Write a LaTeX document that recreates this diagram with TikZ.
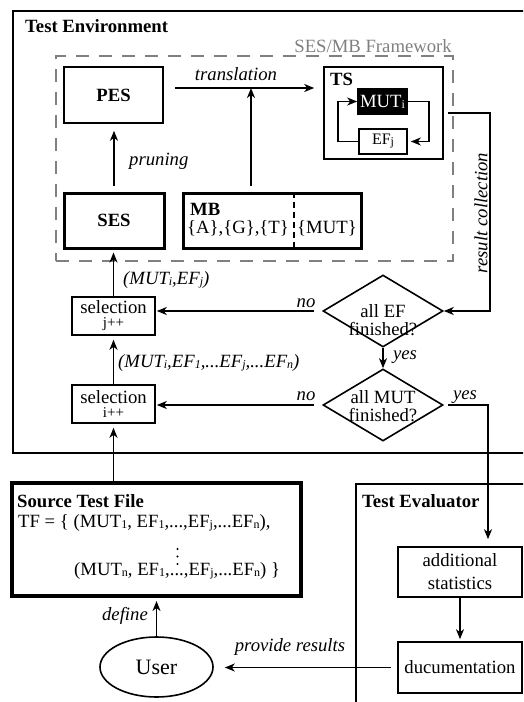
\documentclass[tikz,border=0pt]{standalone}
\usepackage{fontspec}
\setmainfont{Liberation Serif}
\usetikzlibrary{arrows.meta,shapes.geometric}
\definecolor{fwgray}{RGB}{128,128,128}
% small lowered index letters (MUT_i, EF_j, ...)
\newcommand\lo[1]{\raisebox{-1pt}{\fontsize{12}{12}\selectfont #1}}
\begin{document}
\fontsize{18.7}{21}\selectfont
\begin{tikzpicture}[x=1pt,y=-1pt,
  box/.style={draw, line width=1.6pt, inner sep=0pt, align=center},
  heavy/.style={box, line width=3pt},
  frame/.style={draw, line width=1.5pt, inner sep=0pt, anchor=north west},
  decision/.style={draw, diamond, line width=1.6pt, inner sep=0pt,
    minimum width=120pt, minimum height=72pt},
  dtext/.style={align=center, inner sep=0pt, font=\fontsize{18.7}{18.5}\selectfont},
  arr/.style={-{Stealth[length=10pt,width=8pt,inset=3pt]}, line width=1.6pt},
  lbl/.style={font=\itshape, inner sep=0pt},
  ttl/.style={font=\bfseries, inner sep=0pt},
]
\useasboundingbox (0,0) rectangle (523,702);
\clip (0,0) rectangle (523,702);

% ---- frames ----
\node[frame, minimum width=520pt, minimum height=442pt] (env) at (12,10) {};
\node[ttl, anchor=base west] (envt) at (25,32) {Test Environment};
\node[frame, draw=fwgray, dash pattern=on 13pt off 10pt,
      minimum width=397pt, minimum height=205pt] (fw) at (55,55) {};
\node[inner sep=0pt, text=fwgray, anchor=base east] (fwt) at (452,52) {SES/MB Framework};
\node[frame, minimum width=180pt, minimum height=230pt] (eval) at (355,483) {};
\node[ttl, anchor=base west] (evalt) at (362,507) {Test Evaluator};

% ---- SES/MB framework content ----
\node[box, minimum width=99pt, minimum height=56pt, font=\bfseries] (pes) at (113.5,95) {PES};
\node[heavy, minimum width=100pt, minimum height=55pt, font=\bfseries] (ses) at (114,220.5) {SES};
\node[heavy, minimum width=178pt, minimum height=55pt] (mb) at (272,220.5) {};
\draw[line width=1.5pt, dash pattern=on 6pt off 4pt] ([xshift=22pt]mb.north) -- ([xshift=22pt]mb.south);
\node[ttl, anchor=base west] (mbt) at (190,215) {MB};
\node[inner sep=0pt, anchor=base west] (mbl) at (187,233) {\{A\},\{G\},\{T\}};
\node[inner sep=0pt, anchor=base] (mbr) at (327,233) {\{MUT\}};

\node[box, minimum width=119pt, minimum height=92pt] (ts) at (383.5,113) {};
\node[ttl, anchor=base west] (tst) at (330,85) {TS};
\node[box, fill=black, text=white, minimum width=49pt, minimum height=25pt] (mut) at (382.5,101.5) {MUT\lo{i}};
\node[box, minimum width=48pt, minimum height=25pt, font=\fontsize{16}{16}\selectfont] (efj) at (383,141.5) {EF\lo{j}};
\draw[arr, shorten >=3pt] (mut.east) -- ++(21,0) |- (efj.east);
\draw[arr] (efj.west) -- ++(-20,0) |- (mut.west);

\coordinate (ytr) at (0,88);
\draw[arr, shorten <=11pt, shorten >=9pt] (pes.east |- ytr) -- (ts.west |- ytr);
\node[lbl, anchor=base] (trl) at (236,80) {translation};
\draw[arr, shorten <=6pt] ([xshift=-21pt]mb.north) -- ([xshift=-21pt]mb.north |- ytr);
\draw[arr, shorten <=6pt, shorten >=7pt] (ses.north) -- (ses.north |- pes.south);
\node[lbl, anchor=base west] (prl) at (129,165) {pruning};

% ---- selection loop ----
\node[decision] (efd) at (383,311) {};
\node[dtext] (efdt) at (383,320) {all EF\\finished?};
\node[decision] (mutd) at (383,405) {};
\node[dtext] (mutdt) at (383,406) {all MUT\\finished?};

\node[box, minimum width=83pt, minimum height=38pt, font=\fontsize{18.7}{14}\selectfont] (selj) at (113.5,316)
  {selection\\{\fontsize{15}{14}\selectfont j++}};
\node[box, minimum width=83pt, minimum height=38pt, font=\fontsize{18.7}{14}\selectfont] (seli) at (113.5,404)
  {selection\\{\fontsize{15}{14}\selectfont i++}};

\coordinate (rcx) at (490,0);
\draw[arr, shorten <=4pt] (ts.east) -- (ts.east -| rcx) -- (rcx |- efd.east) -- (efd.east);
\node[lbl, rotate=90] (rcl) at (481,213) {result collection};

\draw[arr, shorten <=8pt, shorten >=1pt] (efd.west) -- (efd.west -| selj.east);
\node[lbl, anchor=base] (no1) at (306,307) {no};
\draw[arr, shorten <=8pt, shorten >=1pt] (mutd.west) -- (mutd.west -| seli.east);
\node[lbl, anchor=base] (no2) at (306,400) {no};
\draw[arr] (efd.south) -- (mutd.north);
\node[lbl, anchor=base] (yes1) at (405,359) {yes};

\draw[arr, shorten >=3pt] (selj.north) -- (selj.north |- ses.south);
\node[lbl, anchor=base west] (l1) at (123,284) {(MUT\lo{i},EF\lo{j})};
\draw[arr, shorten >=4pt] (seli.north) -- (selj.south);
\node[lbl, anchor=base west] (l2) at (118,367) {(MUT\lo{i},EF\lo{1},...EF\lo{j},...EF\lo{n})};

% ---- source test file ----
\node[draw, line width=4pt, inner sep=0pt, minimum width=289pt, minimum height=113pt] (src) at (156.5,539.5) {};
\node[ttl, anchor=base west] (srct) at (17,507) {Source Test File};
\node[inner sep=0pt, anchor=base west] (tf1) at (18,527) {TF = \{ (MUT\lo{1}, EF\lo{1},...,EF\lo{j},...EF\lo{n}),};
% vertical ellipsis between the two tuples
\foreach \dy in {549,556.5,564} \fill (177.5,\dy) circle (1.1pt);
\node[inner sep=0pt, anchor=base west] (tf2) at (74,575) {(MUT\lo{n}, EF\lo{1},...,EF\lo{j},...EF\lo{n}) \}};
\draw[arr, shorten >=4pt] (seli.south |- src.north) -- (seli.south);

% ---- evaluator ----
\node[box, minimum width=124pt, minimum height=50pt, font=\fontsize{18.7}{23}\selectfont] (stats) at (460,572) {additional\\statistics};
\node[box, minimum width=124pt, minimum height=51pt] (docu) at (460,667.5) {ducumentation};
\draw[arr, shorten >=2pt] (stats.south) -- (docu.north);

\coordinate (yesx) at (488,0);
\draw[arr, shorten <=4pt, shorten >=7pt] (mutd.east) -- (mutd.east -| yesx) -- (yesx |- stats.north);
\node[lbl, anchor=base] (yes2) at (465,399) {yes};

% ---- user ----
\node[draw, ellipse, line width=1.6pt, inner sep=0pt, minimum width=113pt, minimum height=60pt,
      font=\fontsize{22}{22}\selectfont] (user) at (156.5,667) {User};
\draw[arr, shorten <=6pt, shorten >=11pt] (docu.west) -- (docu.west -| user.east);
\node[lbl, anchor=base] (prov) at (290,651) {provide results};
\draw[arr, shorten >=3pt] (user.north) -- (user.north |- src.south);
\node[lbl, anchor=base east] (def) at (148,620) {define};
\end{tikzpicture}
\end{document}
